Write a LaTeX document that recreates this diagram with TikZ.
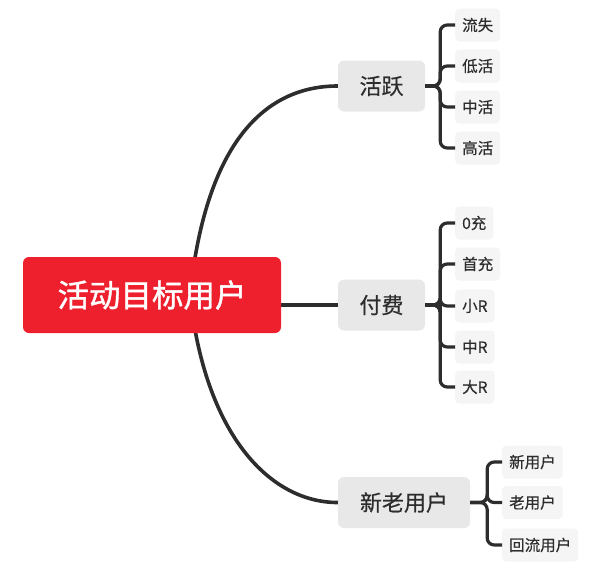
\documentclass[tikz,border=0pt]{standalone}
\usepackage{fontspec}
\setmainfont{Noto Sans CJK SC}
\newfontfamily\rootfont[FakeBold=1.2]{Noto Sans CJK SC}
\newfontfamily\medfont[FakeBold=0.5]{Noto Sans CJK SC}
\usetikzlibrary{backgrounds}
\definecolor{rootred}{RGB}{238,32,46}
\definecolor{branchgray}{RGB}{232,232,232}
\definecolor{leafgray}{RGB}{245,245,245}
\definecolor{ink}{RGB}{45,45,45}
\begin{document}
\begin{tikzpicture}[x=1pt,y=-1pt,
  rootbox/.style={fill=rootred,text=white,rounded corners=6pt,minimum width=258pt,minimum height=76pt,font=\rootfont\fontsize{31.5}{32}\selectfont,inner sep=0pt},
  branchbox/.style={fill=branchgray,text=ink,rounded corners=6pt,minimum height=51pt,font=\medfont\fontsize{22}{22}\selectfont,inner sep=0pt},
  leafbox/.style={fill=leafgray,text=ink,rounded corners=4pt,minimum height=33pt,inner xsep=7pt,inner ysep=0pt,font=\medfont\fontsize{15.5}{16}\selectfont,anchor=west},
  conn/.style={draw=ink,line width=3.6pt},
  leafline/.style={draw=ink,line width=3.2pt,rounded corners=7pt}]
\useasboundingbox (0,0) rectangle (600,568);
\node[rootbox] (r) at (152,295) {活动目标用户};
\node[branchbox,minimum width=87pt] (b1) at (381.5,86) {活跃};
\node[branchbox,minimum width=87pt] (b2) at (381.5,305) {付费};
\node[branchbox,minimum width=132pt] (b3) at (404,502.5) {新老用户};
% leaves of 活跃
\node[leafbox] (l11) at (455,25) {流失};
\node[leafbox] (l12) at (455,66) {低活};
\node[leafbox] (l13) at (455,107) {中活};
\node[leafbox] (l14) at (455,148) {高活};
% leaves of 付费
\node[leafbox] (l21) at (455,223) {0充};
\node[leafbox] (l22) at (455,264) {首充};
\node[leafbox] (l23) at (455,306) {小R};
\node[leafbox] (l24) at (455,347) {中R};
\node[leafbox] (l25) at (455,387) {大R};
% leaves of 新老用户
\node[leafbox] (l31) at (502,462) {新用户};
\node[leafbox] (l32) at (502,502.5) {老用户};
\node[leafbox] (l33) at (502,545) {回流用户};
\coordinate (rs) at (190,295);
\begin{scope}[on background layer]
\draw[conn] (rs) .. controls (205,150) and (260,86) .. (b1.west);
\draw[conn] (rs) .. controls (205,435) and (270,502.5) .. (b3.west);
\draw[conn] (r.east |- b2.west) -- (b2.west);
\end{scope}
\foreach \l in {l11,l12,l13,l14}{\draw[leafline] (b1.east) -- ++(15,0) |- (\l.west);}
\foreach \l in {l21,l22,l23,l24,l25}{\draw[leafline] (b2.east) -- ++(15,0) |- (\l.west);}
\foreach \l in {l31,l32,l33}{\draw[leafline] (b3.east) -- ++(17,0) |- (\l.west);}
\end{tikzpicture}
\end{document}
